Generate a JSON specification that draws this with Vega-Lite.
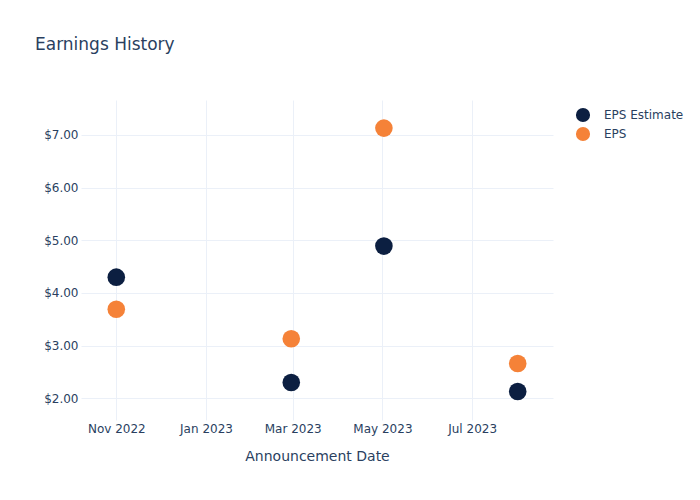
{
  "$schema": "https://vega.github.io/schema/vega-lite/v6.json",
  "autosize": "none",
  "width": 472,
  "height": 320,
  "padding": {"left": 81, "top": 100, "right": 147, "bottom": 80},
  "background": "white",
  "config": {
    "font": "DejaVu Sans",
    "view": {"stroke": null},
    "axis": {"gridColor": "#ebf0f8", "gridWidth": 1, "domain": false, "ticks": false, "labelColor": "#2a3f5f", "titleColor": "#2a3f5f", "labelFont": "DejaVu Sans", "titleFont": "DejaVu Sans", "labelFontSize": 12, "titleFontSize": 14, "titleFontWeight": "normal"}
  },
  "title": {"text": "Earnings History", "anchor": "start", "frame": "group", "dx": -46, "offset": 33, "baseline": "alphabetic", "fontSize": 17, "fontWeight": "normal", "color": "#2a3f5f", "font": "DejaVu Sans"},
  "data": {"values": [
    {"date": "2022-11-01", "series": "EPS Estimate", "value": 4.30},
    {"date": "2023-02-28", "series": "EPS Estimate", "value": 2.30},
    {"date": "2023-05-02", "series": "EPS Estimate", "value": 4.89},
    {"date": "2023-08-01", "series": "EPS Estimate", "value": 2.13},
    {"date": "2022-11-01", "series": "EPS", "value": 3.69},
    {"date": "2023-02-28", "series": "EPS", "value": 3.13},
    {"date": "2023-05-02", "series": "EPS", "value": 7.13},
    {"date": "2023-08-01", "series": "EPS", "value": 2.66}
  ]},
  "mark": {"type": "circle", "size": 310, "opacity": 1},
  "encoding": {
    "x": {"field": "date", "type": "temporal", "title": "Announcement Date",
      "scale": {"type": "utc", "domain": [{"year": 2022, "month": 10, "date": 8, "utc": true}, {"year": 2023, "month": 8, "date": 25, "utc": true}]},
      "axis": {"values": [{"year": 2022, "month": 11, "date": 1, "utc": true}, {"year": 2023, "month": 1, "date": 1, "utc": true}, {"year": 2023, "month": 3, "date": 1, "utc": true}, {"year": 2023, "month": 5, "date": 1, "utc": true}, {"year": 2023, "month": 7, "date": 1, "utc": true}], "format": "%b %Y", "labelPadding": 3, "titlePadding": 15, "labelFlush": false, "labelOverlap": false}},
    "y": {"field": "value", "type": "quantitative", "title": null,
      "scale": {"domain": [1.588, 7.664], "nice": false, "zero": false},
      "axis": {"values": [2, 3, 4, 5, 6, 7], "format": "$.2f", "labelPadding": 3}},
    "color": {"field": "series", "type": "nominal",
      "scale": {"domain": ["EPS Estimate", "EPS"], "range": ["#0c1f41", "#f58238"]},
      "legend": {"title": null, "orient": "none", "legendX": 494, "legendY": 7, "symbolType": "circle", "symbolSize": 200, "symbolOpacity": 1, "labelFontSize": 12, "labelColor": "#2a3f5f", "labelFont": "DejaVu Sans", "labelOffset": 13, "rowPadding": 3}}
  }
}
